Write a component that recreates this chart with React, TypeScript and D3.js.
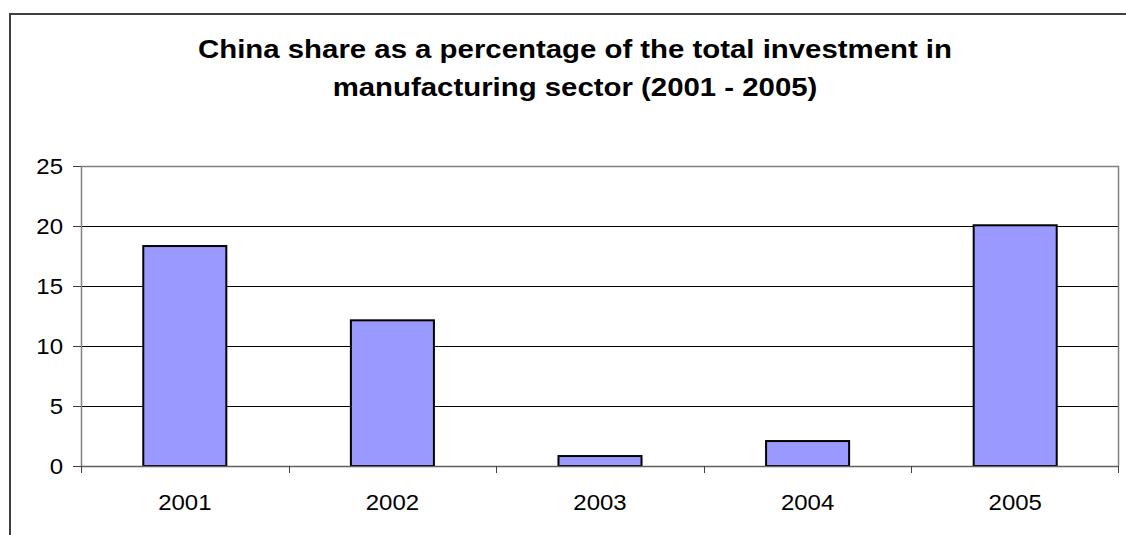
import React from "react";
import * as d3 from "d3";

const categories = ["2001", "2002", "2003", "2004", "2005"];
const values = [18.33, 12.14, 0.83, 2.08, 20.06];
const yTicks = [0, 5, 10, 15, 20, 25];
const titleLines = [
  "China share as a percentage of the total investment in",
  "manufacturing sector (2001 - 2005)",
];

export default function App() {
  const W = 1126, H = 535;
  const left = 81, right = 1119, top = 166, bottom = 466;
  const x = d3.scaleBand().domain(categories).range([left, right]).paddingInner(0.6).paddingOuter(0.3);
  const xb = d3.scaleBand().domain(categories).range([left, right]);
  const y = d3.scaleLinear().domain([0, 25]).range([bottom, top]);
  const font = "'Liberation Sans', Arial, sans-serif";
  const lsx = 1.09;
  const tsx = 1.175;
  return (
    <svg width={W} height={H} style={{ position: "absolute", left: 0, top: 0 }}>
      <rect x={0} y={0} width={W} height={H} fill="#fff" />
      <path d={`M10,${H} V14 H${W}`} fill="none" stroke="#404040" strokeWidth={2} />
      {titleLines.map((t, i) => (
        <text key={i} transform={`translate(575,${58 + i * 37.5}) scale(${tsx},1)`} textAnchor="middle" fontFamily={font} fontWeight="bold" fontSize={25} fill="#000">{t}</text>
      ))}
      {yTicks.filter(v => v > 0 && v < 25).map(v => (
        <line key={v} x1={left} x2={right} y1={Math.round(y(v)) + 0.5} y2={Math.round(y(v)) + 0.5} stroke="#000" strokeWidth={1} />
      ))}
      <path d={`M${left + 0.5},${bottom} V${top + 0.5} H${right - 0.5} V${bottom}`} fill="none" stroke="#808080" strokeWidth={1.5} />
      {categories.map((c, i) => (
        <rect key={c} x={x(c)} y={y(values[i])} width={x.bandwidth()} height={y(0) - y(values[i])} fill="#9999FF" stroke="#000" strokeWidth={2} />
      ))}
      <line x1={left} x2={right} y1={bottom + 0.5} y2={bottom + 0.5} stroke="#606060" strokeWidth={1.5} />
      {yTicks.map(v => (
        <g key={v}>
          <line x1={left - 8} x2={left} y1={Math.round(y(v)) + 0.5} y2={Math.round(y(v)) + 0.5} stroke="#404040" strokeWidth={1} />
          <text transform={`translate(63,${y(v) + 8}) scale(${lsx},1)`} textAnchor="end" fontFamily={font} fontSize={22} fill="#000">{v}</text>
        </g>
      ))}
      {categories.map((c) => (
        <line key={"t" + c} x1={Math.round((xb(c) as number)) + 0.5} x2={Math.round((xb(c) as number)) + 0.5} y1={bottom} y2={bottom + 7} stroke="#404040" strokeWidth={1} />
      ))}
      <line x1={right - 0.5} x2={right - 0.5} y1={bottom} y2={bottom + 7} stroke="#404040" strokeWidth={1} />
      {categories.map(c => (
        <text key={"l" + c} transform={`translate(${(xb(c) as number) + xb.bandwidth() / 2},510) scale(${lsx},1)`} textAnchor="middle" fontFamily={font} fontSize={22} fill="#000">{c}</text>
      ))}
    </svg>
  );
}
